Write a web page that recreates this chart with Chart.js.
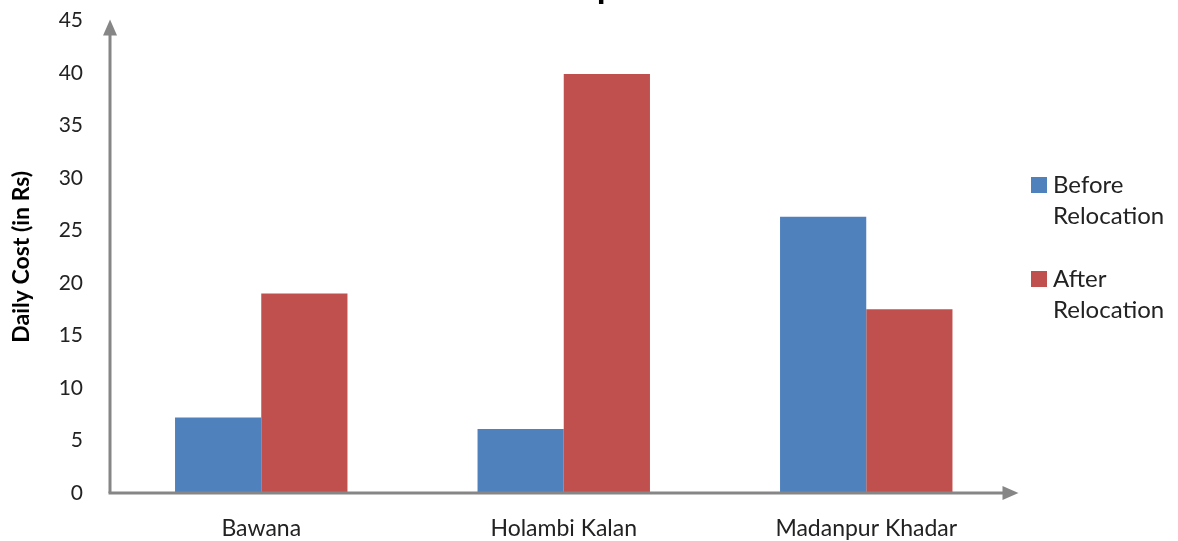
<!DOCTYPE html>
<html>
<head>
<meta charset="utf-8">
<script src="https://cdn.jsdelivr.net/npm/chart.js@4/dist/chart.umd.min.js"></script>
<style>
  html, body { margin: 0; padding: 0; background: #fff; }
  #wrap { width: 1178px; height: 541px; position: relative; }
</style>
</head>
<body>
<div id="wrap"><canvas id="c" width="1178" height="541"></canvas></div>
<script>
const chartTitle = 'Cost of Transportation';
const axisTitle = 'Daily Cost (in Rs)';
const categories = ['Bawana', 'Holambi Kalan', 'Madanpur Khadar'];
const beforeRelocation = [7.2, 6.1, 26.3];
const afterRelocation = [19.0, 39.9, 17.5];
const seriesNames = [['Before', 'Relocation'], ['After', 'Relocation']];
const seriesColors = ['#4F81BD', '#C0504D'];

const FONT = 'Lato, "Open Sans", sans-serif';
const AXIS_GREY = '#868686';

// Axis lines ending in arrowheads, drawn over the chart area edges
const arrowAxes = {
  id: 'arrowAxes',
  afterDatasetsDraw(chart) {
    const { ctx, chartArea: a } = chart;
    ctx.save();
    ctx.strokeStyle = AXIS_GREY;
    ctx.fillStyle = AXIS_GREY;
    ctx.lineWidth = 3;
    // vertical axis
    ctx.beginPath();
    ctx.moveTo(a.left, a.bottom);
    ctx.lineTo(a.left, a.top + 12);
    ctx.stroke();
    ctx.beginPath();
    ctx.moveTo(a.left, a.top - 1);
    ctx.lineTo(a.left - 7, a.top + 15);
    ctx.lineTo(a.left + 7, a.top + 15);
    ctx.closePath();
    ctx.fill();
    // horizontal axis
    ctx.beginPath();
    ctx.moveTo(a.left - 1.5, a.bottom);
    ctx.lineTo(a.right - 12, a.bottom);
    ctx.stroke();
    ctx.beginPath();
    ctx.moveTo(a.right + 1, a.bottom);
    ctx.lineTo(a.right - 15, a.bottom - 7);
    ctx.lineTo(a.right - 15, a.bottom + 7);
    ctx.closePath();
    ctx.fill();
    ctx.restore();
  }
};

// Heading sitting at the very top edge of the canvas
const topHeading = {
  id: 'topHeading',
  afterDraw(chart) {
    const { ctx } = chart;
    ctx.save();
    ctx.font = 'bold 36px ' + FONT;
    ctx.fillStyle = '#000';
    ctx.textAlign = 'center';
    ctx.textBaseline = 'alphabetic';
    ctx.fillText(chartTitle, 567, -2);
    ctx.restore();
  }
};

// Legend with two-line labels to the right of the plot
const sideLegend = {
  id: 'sideLegend',
  afterDraw(chart) {
    const { ctx } = chart;
    ctx.save();
    ctx.font = '24px ' + FONT;
    ctx.textBaseline = 'middle';
    ctx.textAlign = 'left';
    chart.data.datasets.forEach((ds, i) => {
      const y0 = 185 + i * 94;
      ctx.fillStyle = ds.backgroundColor;
      ctx.fillRect(1031, y0 - 8, 16, 16);
      ctx.fillStyle = '#222';
      ds.label.forEach((line, j) => ctx.fillText(line, 1053, y0 + j * 31));
    });
    ctx.restore();
  }
};

new Chart(document.getElementById('c'), {
  type: 'bar',
  data: {
    labels: categories,
    datasets: [
      { label: seriesNames[0], data: beforeRelocation, backgroundColor: seriesColors[0] },
      { label: seriesNames[1], data: afterRelocation, backgroundColor: seriesColors[1] }
    ]
  },
  options: {
    responsive: false,
    animation: false,
    devicePixelRatio: 1,
    layout: { padding: { top: 20.5, right: 160.5, left: 0, bottom: 0 } },
    datasets: { bar: { categoryPercentage: 0.57, barPercentage: 1.0, borderWidth: 0 } },
    plugins: {
      legend: { display: false },
      title: { display: false },
      tooltip: { enabled: false }
    },
    scales: {
      x: {
        grid: { display: false, drawTicks: false },
        border: { display: false },
        ticks: { color: '#222', font: { family: FONT, size: 23 }, padding: 22, maxRotation: 0 },
        afterFit(scale) { scale.height = 48; scale.paddingLeft = 0; scale.paddingRight = 0; }
      },
      y: {
        min: 0,
        max: 45,
        grid: { display: false, drawTicks: false },
        border: { display: false },
        ticks: { stepSize: 5, color: '#222', font: { family: FONT, size: 21 }, padding: 27 },
        title: {
          display: true,
          text: axisTitle,
          color: '#000',
          font: { family: FONT, size: 23, weight: 'bold' },
          padding: { top: 8, bottom: 0 }
        },
        afterFit(scale) { scale.width = 110; scale.paddingTop = 0; scale.paddingBottom = 0; }
      }
    }
  },
  plugins: [arrowAxes, topHeading, sideLegend]
});
</script>
</body>
</html>
